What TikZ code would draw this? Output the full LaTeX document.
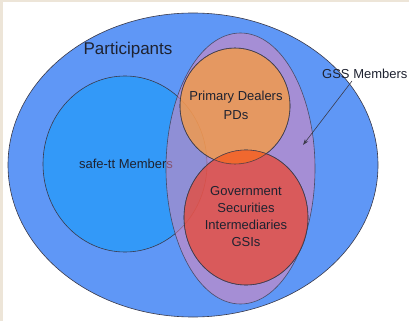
\documentclass[tikz,border=0pt]{standalone}
\usepackage{fontspec}
\setmainfont{Liberation Sans}
\usetikzlibrary{arrows.meta}
\definecolor{frame}{HTML}{EDE5D8}
\definecolor{partblue}{HTML}{5F97F6}
\definecolor{safeblue}{HTML}{3399F8}
\definecolor{gsspurple}{RGB}{235,135,182}
\definecolor{pdorange}{RGB}{246,155,69}
\definecolor{gsired}{RGB}{230,77,61}
\definecolor{lens}{HTML}{F0682F}
\definecolor{edge}{HTML}{3A3A4A}
\definecolor{ink}{HTML}{1E2230}
\begin{document}
\begin{tikzpicture}[x=1pt,y=-1pt,
  setshape/.style={draw=edge,line width=0.6pt},
  label/.style={text=ink,font=\fontsize{13}{17}\selectfont,align=center,inner sep=0pt},
  biglabel/.style={text=ink,font=\fontsize{17}{20}\selectfont,inner sep=0pt}]
  % page background and frame
  \fill[frame] (0,0) rectangle (409,321);
  \fill[white] (3,2) rectangle (409,321);
  \useasboundingbox (0,0) rectangle (409,321);
  % participants
  \path[setshape,fill=partblue] (193,165) ellipse [x radius=185,y radius=152];
  \node[biglabel] (part) at (128,50) {Participants};
  % safe-tt members
  \path[setshape,fill=safeblue] (125,164) ellipse [x radius=82,y radius=88];
  \node[label] (safe) at (126,164) {safe-tt Members};
  % GSS members
  \path[setshape,fill=gsspurple,fill opacity=0.5,draw opacity=0.8] (240.5,168.5) ellipse [x radius=74.5,y radius=135.5];
  % primary dealers
  \path[setshape,fill=pdorange,fill opacity=0.8,draw opacity=0.8] (235,106) ellipse [x radius=55,y radius=58];
  % government securities intermediaries
  \path[setshape,fill=gsired,fill opacity=0.8,draw opacity=0.8] (246,217.5) ellipse [x radius=62,y radius=67.5];
  % overlap of PDs and GSIs
  \begin{scope}
    \clip (235,106) ellipse [x radius=55,y radius=58];
    \fill[lens] (246,217.5) ellipse [x radius=62,y radius=67.5];
  \end{scope}
  \draw[edge,line width=0.6pt,draw opacity=0.8] (235,106) ellipse [x radius=55,y radius=58];
  \draw[edge,line width=0.6pt,draw opacity=0.8] (246,217.5) ellipse [x radius=62,y radius=67.5];
  \node[label,font=\fontsize{13}{19}\selectfont] (pd) at (236,105.5) {Primary Dealers\\PDs};
  \node[label] (gsi) at (246,217) {Government\\Securities\\Intermediaries\\GSIs};
  % GSS label with pointer
  \node[label,anchor=west] (gss) at (322,74) {GSS Members};
  \coordinate (gsstip) at (303,145);
  \draw[edge,line width=0.6pt,-{Stealth[length=6pt,width=4pt]}] (gss.south -| 352,0) ++(0,2) -- (gsstip);
\end{tikzpicture}
\end{document}
